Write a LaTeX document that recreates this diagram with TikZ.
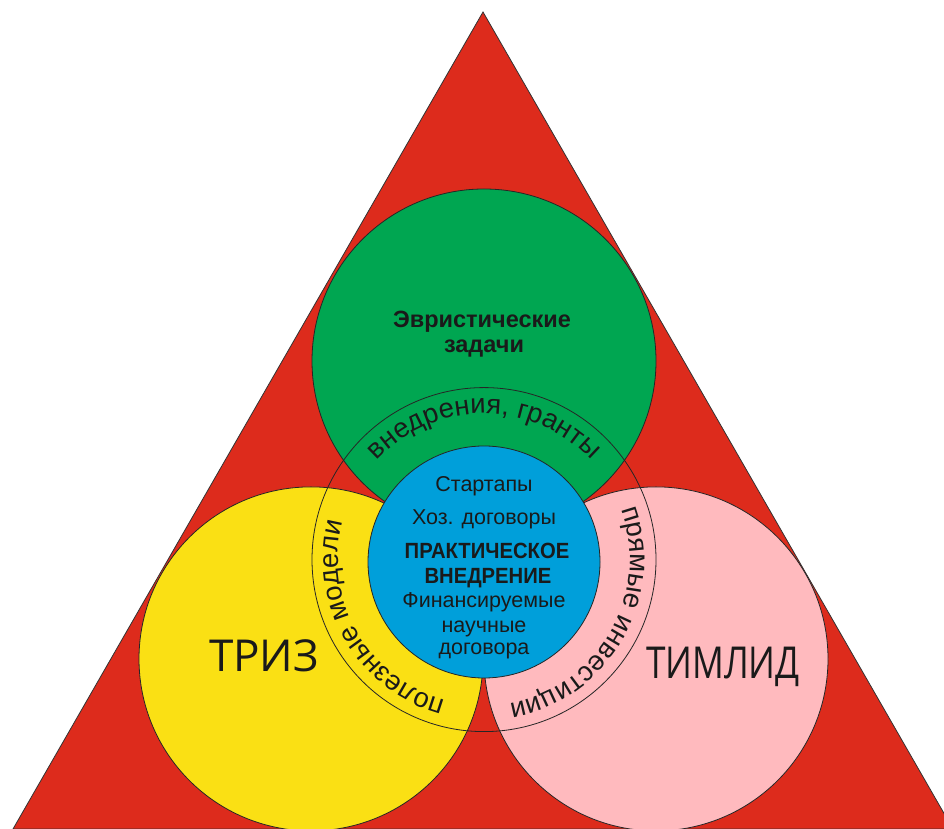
\documentclass[tikz,border=0pt]{standalone}
\usepackage{fontspec}
\setmainfont{Liberation Sans}
\newfontfamily\bigsans{Open Sans}
\usetikzlibrary{decorations.text}

\definecolor{trired}{RGB}{221,43,28}
\definecolor{trigreen}{RGB}{0,166,81}
\definecolor{triyellow}{RGB}{250,224,20}
\definecolor{tripink}{RGB}{255,186,190}
\definecolor{triblue}{RGB}{0,159,218}
\definecolor{inkc}{RGB}{26,26,26}

\newcommand\ringfont{\fontsize{27.5}{27.5}\selectfont}

\begin{document}
\begin{tikzpicture}[x=1pt,y=1pt,
  disc/.style={circle, draw=black!85, line width=0.8pt, inner sep=0pt, minimum size=344pt},
  lbl/.style={anchor=base, text=inkc, inner sep=0pt, font=\fontsize{21.5}{21.5}\selectfont},
  lblbold/.style={lbl, font=\bfseries\fontsize{22}{22}\selectfont},
  big/.style={anchor=base, text=inkc, inner sep=0pt, font=\bigsans\fontsize{44}{44}\selectfont},
  ringtext/.style={decorate, decoration={text along path, text align=center, text color=inkc}}
]
\useasboundingbox (0,0) rectangle (944,829);

% red triangle
\coordinate (apex) at (483,817);
\coordinate (bl) at (13,0);
\coordinate (br) at (953,0);
\draw[fill=trired, draw=black!80, line width=0.8pt] (apex) -- (bl) -- (br) -- cycle;

% three tangent circles
\node[disc, fill=trigreen]  (heur) at (484,468) {};
\node[disc, fill=triyellow] (triz) at (311,170.1) {};
\node[disc, fill=tripink]   (team) at (656,170.1) {};

% ring and central disc
\coordinate (hub) at (484,269.4);
\node[circle, draw=black!85, line width=0.8pt, inner sep=0pt, minimum size=344pt] (ring) at (hub) {};
\node[circle, draw=black!85, line width=0.8pt, fill=triblue, inner sep=0pt, minimum size=232pt] (core) at (484,267) {};

% labels along the ring
\path[ringtext, decoration={text={|\ringfont|внедрения, гранты}}]
  ([shift={(180:146)}]hub) arc[start angle=180, end angle=0, radius=146];
\path[ringtext, decoration={text={|\ringfont|прямые инвестиции}}]
  ([shift={(60:146)}]hub) arc[start angle=60, end angle=-120, radius=146];
\path[ringtext, decoration={text={|\ringfont|полезные модели}}]
  ([shift={(-60:146)}]hub) arc[start angle=-60, end angle=-240, radius=146];

% top circle caption
\node[lblbold, font=\bfseries\fontsize{23.5}{23.5}\selectfont] (h1) at (482,501) {Эвристические};
\node[lblbold, font=\bfseries\fontsize{23.5}{23.5}\selectfont] (h2) at (484,476) {задачи};

% central disc text
\node[lbl] (c1) at (484,337) {Стартапы};
\node[lbl] (c2) at (484,304) {Хоз. договоры};
\node[lblbold] (c3) at (487,270) {\scalebox{0.92}[1]{ПРАКТИЧЕСКОЕ}};
\node[lblbold] (c4) at (488,245) {\scalebox{0.92}[1]{ВНЕДРЕНИЕ}};
\node[lbl] (c5) at (484,221) {Финансируемые};
\node[lbl] (c6) at (484,196) {научные};
\node[lbl] (c7) at (484,174) {договора};

% big captions
\node[big] (t1) at (264,157) {ТРИЗ};
\node[big] (t2) at (723,150) {\scalebox{0.8}[1]{ТИМЛИД}};
\end{tikzpicture}
\end{document}
